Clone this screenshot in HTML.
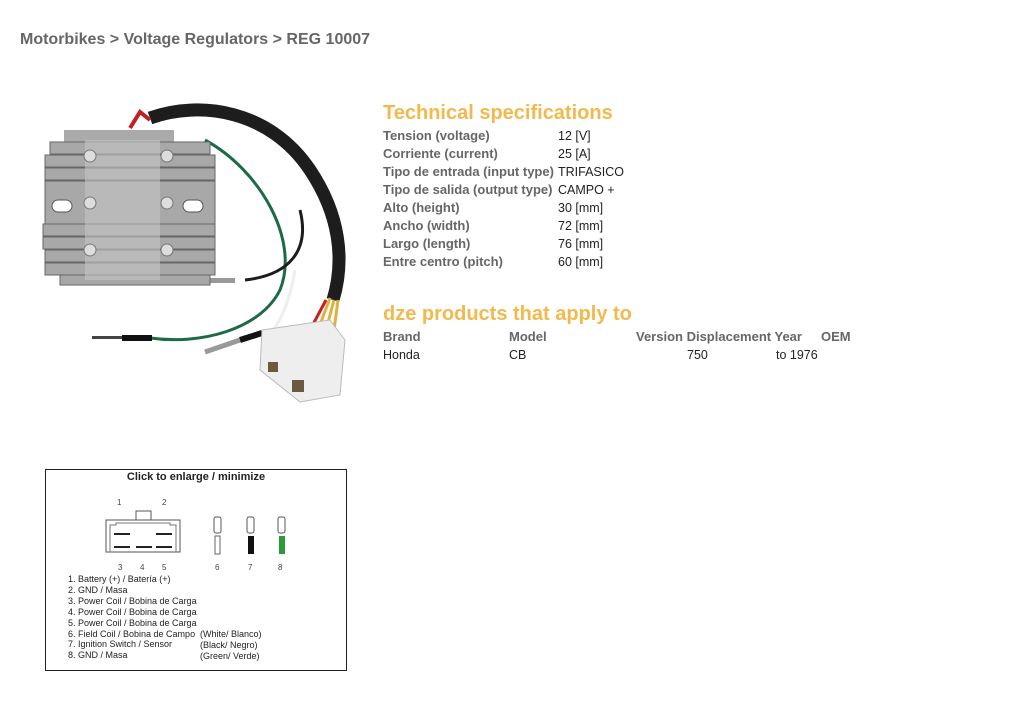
<!DOCTYPE html>
<html><head><meta charset="utf-8"><style>
body{margin:0;background:#fff;width:1024px;height:713px;position:relative;overflow:hidden;font-family:"Liberation Sans",Arial,sans-serif}
.a{position:absolute;white-space:nowrap}
.bc{left:20px;top:31px;font-size:16px;font-weight:bold;color:#666}
.h{font-size:20px;font-weight:bold;color:#f3b94d}
.l{font-size:13px;font-weight:bold;color:#666;left:383px}
.v{font-size:12.5px;color:#222;left:558px}
.t{font-size:9px;color:#222}
</style></head><body>
<div class="a bc">Motorbikes &gt; Voltage Regulators &gt; REG 10007</div>

<svg class="a" style="left:0;top:0" width="360" height="420">
<path d="M150 118 C200 100 270 110 310 170 C340 215 345 260 333 300" stroke="#1d1d1d" stroke-width="13" fill="none"/>
<path d="M205 140 C260 170 300 240 280 290 C260 330 200 345 150 338" stroke="#1d6a45" stroke-width="3" fill="none"/>
<path d="M300 210 C310 250 290 275 245 280" stroke="#1d1d1d" stroke-width="3" fill="none"/>
<path d="M295 270 C290 300 280 325 265 340" stroke="#eee" stroke-width="3" fill="none"/>
<path d="M330 298 L318 330 M334 300 L326 330 M338 300 L334 330" stroke="#e0b040" stroke-width="3" fill="none"/>
<path d="M326 300 L310 330" stroke="#c82020" stroke-width="3"/>
<path d="M130 128 L140 112 L150 120" stroke="#c02020" stroke-width="4" fill="none"/>
<rect x="200" y="278" width="35" height="5" fill="#999"/>
<rect x="92" y="336" width="30" height="3" fill="#444"/>
<rect x="122" y="335" width="30" height="6" fill="#111"/>
<path d="M205 352 L240 340" stroke="#999" stroke-width="5"/>
<path d="M240 340 L262 333" stroke="#111" stroke-width="6"/>
<rect x="64" y="130" width="110" height="12" fill="#aaa"/>
<g fill="#a8a8a8" stroke="#666" stroke-width="1">
<rect x="50" y="142" width="160" height="12"/>
<rect x="45" y="155" width="170" height="12"/>
<rect x="45" y="168" width="170" height="12"/>
<rect x="45" y="181" width="170" height="45"/>
<rect x="43" y="224" width="172" height="12"/>
<rect x="43" y="237" width="172" height="12"/>
<rect x="45" y="250" width="170" height="12"/>
<rect x="45" y="263" width="170" height="12"/>
<rect x="60" y="275" width="150" height="10"/>
</g>
<rect x="85" y="140" width="75" height="140" fill="#c4c4c4" opacity=".6"/>
<rect x="52" y="200" width="20" height="12" rx="6" fill="#fff" stroke="#555"/>
<rect x="183" y="200" width="20" height="12" rx="6" fill="#fff" stroke="#555"/>
<g fill="#ddd" stroke="#777"><circle cx="90" cy="156" r="6"/><circle cx="167" cy="156" r="6"/><circle cx="90" cy="203" r="6"/><circle cx="167" cy="203" r="6"/><circle cx="90" cy="250" r="6"/><circle cx="167" cy="250" r="6"/></g>
<path d="M262 330 L330 320 L345 340 L340 395 L300 402 L260 370 Z" fill="#eee" stroke="#bbb"/>
<rect x="268" y="362" width="10" height="10" fill="#6a5a40"/>
<rect x="292" y="380" width="12" height="12" fill="#6a5a40"/>
</svg>

<div class="a h" style="left:383px;top:102px">Technical specifications</div>
<div class="a l" style="top:128px">Tension (voltage)</div><div class="a v" style="top:129px">12 [V]</div>
<div class="a l" style="top:146px">Corriente (current)</div><div class="a v" style="top:147px">25 [A]</div>
<div class="a l" style="top:164px">Tipo de entrada (input type)</div><div class="a v" style="top:165px">TRIFASICO</div>
<div class="a l" style="top:182px">Tipo de salida (output type)</div><div class="a v" style="top:183px">CAMPO +</div>
<div class="a l" style="top:200px">Alto (height)</div><div class="a v" style="top:201px">30 [mm]</div>
<div class="a l" style="top:218px">Ancho (width)</div><div class="a v" style="top:219px">72 [mm]</div>
<div class="a l" style="top:236px">Largo (length)</div><div class="a v" style="top:237px">76 [mm]</div>
<div class="a l" style="top:254px">Entre centro (pitch)</div><div class="a v" style="top:255px">60 [mm]</div>

<div class="a h" style="left:383px;top:303px">dze products that apply to</div>
<div class="a l" style="top:329px;left:383px">Brand</div>
<div class="a l" style="top:329px;left:509px">Model</div>
<div class="a l" style="top:329px;left:636px">Version Displacement Year</div>
<div class="a l" style="top:329px;left:821px">OEM</div>
<div class="a v" style="top:348px;left:383px">Honda</div>
<div class="a v" style="top:348px;left:509px">CB</div>
<div class="a v" style="top:348px;left:687px">750</div>
<div class="a v" style="top:348px;left:776px">to 1976</div>

<div class="a" style="left:45px;top:469px;width:300px;height:200px;border:1px solid #222"></div>
<div class="a" style="left:45px;top:471px;width:302px;text-align:center;font-size:11px;font-weight:bold;color:#222">Click to enlarge / minimize</div>
<svg class="a" style="left:100px;top:495px" width="200" height="80" font-family="Liberation Sans" font-size="8" fill="#444">
<text x="17" y="10">1</text><text x="62" y="10">2</text>
<path d="M36 25 V16 H51 V25" fill="none" stroke="#555"/>
<rect x="6" y="25" width="74" height="32" fill="#fff" stroke="#555"/>
<path d="M10 57 V30 H16 V28 H70 V30 H76 V57" fill="none" stroke="#777"/>
<g fill="#222"><rect x="14" y="38" width="16" height="2"/><rect x="56" y="38" width="16" height="2"/><rect x="14" y="51" width="16" height="2"/><rect x="36" y="51" width="16" height="2"/><rect x="56" y="51" width="16" height="2"/></g>
<text x="18" y="75">3</text><text x="40" y="75">4</text><text x="62" y="75">5</text>
<g stroke="#555" fill="#fff"><rect x="114" y="22" width="7" height="16" rx="2"/><rect x="147" y="22" width="7" height="16" rx="2"/><rect x="178" y="22" width="7" height="16" rx="2"/></g>
<rect x="115" y="41" width="5" height="18" fill="#fff" stroke="#666"/>
<rect x="148" y="41" width="6" height="18" fill="#111"/>
<rect x="179" y="41" width="6" height="18" fill="#2a9a3a"/>
<text x="115" y="75">6</text><text x="148" y="75">7</text><text x="178" y="75">8</text>
</svg>
<div class="a t" style="left:68px;top:574px;line-height:10.9px">1. Battery (+) / Batería (+)<br>2. GND / Masa<br>3. Power Coil / Bobina de Carga<br>4. Power Coil / Bobina de Carga<br>5. Power Coil / Bobina de Carga<br>6. Field Coil / Bobina de Campo<br>7. Ignition Switch / Sensor<br>8. GND / Masa</div>
<div class="a t" style="left:200px;top:629px;line-height:10.9px">(White/ Blanco)<br>(Black/ Negro)<br>(Green/ Verde)</div>
</body></html>
